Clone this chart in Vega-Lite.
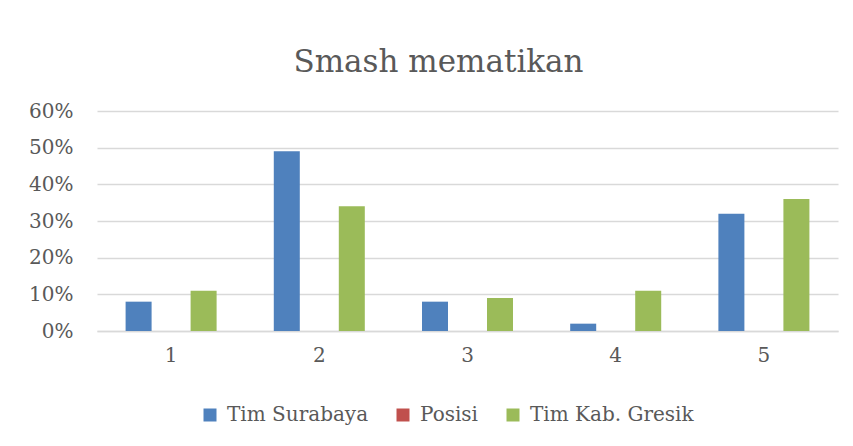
{
  "$schema": "https://vega.github.io/schema/vega-lite/v6.json",
  "width": 741,
  "height": 220,
  "autosize": "none",
  "padding": {"left": 97, "top": 111, "right": 15, "bottom": 115},
  "background": "white",
  "title": {
    "text": "Smash mematikan",
    "font": "DejaVu Serif",
    "fontSize": 31,
    "fontWeight": "normal",
    "color": "#595959",
    "anchor": "middle",
    "dx": -29,
    "baseline": "alphabetic",
    "offset": -2
  },
  "data": {
    "values": [
      {"kategori": "1", "seri": "Tim Surabaya", "nilai": 0.08},
      {"kategori": "1", "seri": "Posisi", "nilai": 0},
      {"kategori": "1", "seri": "Tim Kab. Gresik", "nilai": 0.11},
      {"kategori": "2", "seri": "Tim Surabaya", "nilai": 0.49},
      {"kategori": "2", "seri": "Posisi", "nilai": 0},
      {"kategori": "2", "seri": "Tim Kab. Gresik", "nilai": 0.34},
      {"kategori": "3", "seri": "Tim Surabaya", "nilai": 0.08},
      {"kategori": "3", "seri": "Posisi", "nilai": 0},
      {"kategori": "3", "seri": "Tim Kab. Gresik", "nilai": 0.09},
      {"kategori": "4", "seri": "Tim Surabaya", "nilai": 0.02},
      {"kategori": "4", "seri": "Posisi", "nilai": 0},
      {"kategori": "4", "seri": "Tim Kab. Gresik", "nilai": 0.11},
      {"kategori": "5", "seri": "Tim Surabaya", "nilai": 0.32},
      {"kategori": "5", "seri": "Posisi", "nilai": 0},
      {"kategori": "5", "seri": "Tim Kab. Gresik", "nilai": 0.36}
    ]
  },
  "mark": {"type": "bar"},
  "encoding": {
    "x": {
      "field": "kategori",
      "type": "nominal",
      "scale": {"paddingInner": 0.342, "paddingOuter": 0.171},
      "axis": {
        "title": null,
        "labelAngle": 0,
        "labelFont": "DejaVu Serif",
        "labelFontSize": 20,
        "labelColor": "#595959",
        "labelPadding": 14,
        "ticks": false,
        "domainColor": "#d9d9d9",
        "domainWidth": 1.5,
        "grid": false
      }
    },
    "xOffset": {
      "field": "seri",
      "type": "nominal",
      "sort": ["Tim Surabaya", "Posisi", "Tim Kab. Gresik"],
      "scale": {"paddingInner": 0.2, "paddingOuter": 0.1}
    },
    "y": {
      "field": "nilai",
      "type": "quantitative",
      "scale": {"domain": [0, 0.6], "nice": false},
      "axis": {
        "title": null,
        "format": ".0%",
        "values": [0, 0.1, 0.2, 0.3, 0.4, 0.5, 0.6],
        "labelFont": "DejaVu Serif",
        "labelFontSize": 20,
        "labelColor": "#595959",
        "labelPadding": 24,
        "ticks": false,
        "domain": false,
        "gridColor": "#d9d9d9",
        "gridWidth": 1.5
      }
    },
    "color": {
      "field": "seri",
      "type": "nominal",
      "sort": ["Tim Surabaya", "Posisi", "Tim Kab. Gresik"],
      "scale": {
        "domain": ["Tim Surabaya", "Posisi", "Tim Kab. Gresik"],
        "range": ["#4f81bd", "#c0504d", "#9bbb59"]
      },
      "legend": {
        "title": null,
        "orient": "none",
        "direction": "horizontal",
        "legendX": 103,
        "legendY": 294,
        "padding": 0,
        "symbolType": "square",
        "symbolSize": 169,
        "symbolStrokeWidth": 0,
        "labelFont": "DejaVu Serif",
        "labelFontSize": 20,
        "labelColor": "#595959",
        "labelOffset": 7,
        "labelLimit": 400,
        "columnPadding": 24
      }
    }
  },
  "config": {
    "view": {"stroke": null}
  }
}
